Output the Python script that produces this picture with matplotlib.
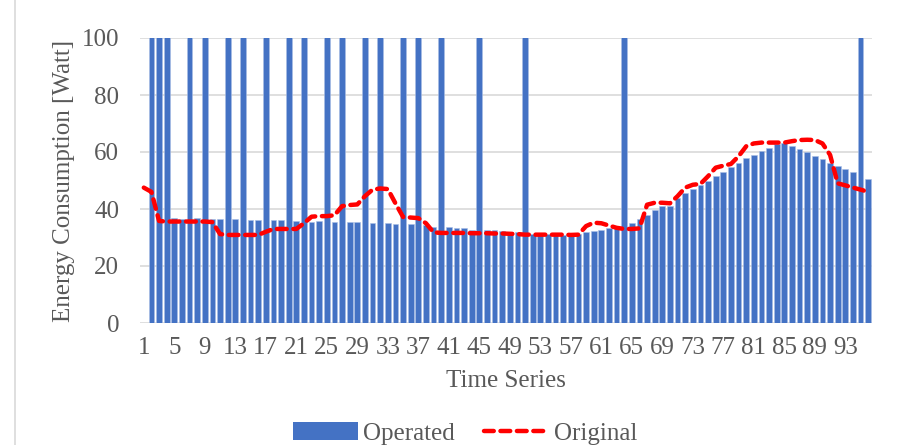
import numpy as np
import matplotlib
matplotlib.use("Agg")
from matplotlib import pyplot as plt
from matplotlib.lines import Line2D
from matplotlib.patches import Patch

plt.rcParams['font.family'] = ['Liberation Serif', 'DejaVu Serif']

T = 120  # spikes that run off the top of the chart
# operated series, categories 2..96
op_cats = list(range(2, 97))
operated = [T, T, T, 36.9, 36.6, T, 36.7, T, 36.4, 36.4,
            T, 36.4, T, 36.0, 36.0, T, 36.0, 36.0, T, 35.7,
            T, 35.6, 35.8, T, 35.4, T, 35.4, 35.4, T, 35.2,
            T, 35.2, 34.9, T, 34.9, T, 34.3, 33.8, T, 33.8,
            33.3, 33.3, 32.7, T, 32.8, 32.5, 32.3, 32.0, 31.8, T,
            31.2, 31.2, 31.2, 31.2, 31.0, 31.0, 31.2, 31.9, 32.3, 32.8,
            33.3, 33.8, T, 35.2, 36.5, 37.9, 39.5, 41.2, 41.0, 43.7,
            45.5, 47.1, 48.3, 49.9, 51.6, 53.1, 54.6, 56.3, 57.8, 58.9,
            60.2, 61.5, 62.7, 63.3, 62.1, 61.2, 59.9, 58.7, 57.5, 56.3,
            55.2, 54.0, 52.9, T, 50.6]

# original series, categories 1..96
orig_cats = list(range(1, 97))
original = [47.5, 46.0, 35.8, 35.6, 35.6, 35.6, 35.6, 35.6, 35.6, 35.4,
            31.2, 30.9, 30.9, 30.9, 30.9, 30.9, 32.0, 33.0, 33.0, 33.0,
            33.0, 35.0, 37.3, 37.5, 37.5, 37.8, 41.0, 41.4, 41.6, 44.5,
            46.8, 47.2, 47.0, 42.0, 37.2, 37.0, 36.8, 35.0, 31.8, 31.6,
            31.6, 31.6, 31.6, 31.5, 31.5, 31.5, 31.4, 31.4, 31.3, 31.2,
            31.0, 31.0, 31.0, 31.0, 31.0, 31.0, 30.9, 31.0, 34.0, 35.2,
            35.0, 34.2, 33.4, 33.0, 33.0, 33.2, 41.5, 42.2, 42.2, 42.0,
            44.5, 47.5, 48.5, 48.8, 51.5, 54.5, 55.2, 55.8, 58.5, 62.0,
            63.0, 63.3, 63.3, 63.3, 63.3, 63.8, 64.2, 64.3, 64.2, 63.0,
            59.0, 49.0, 48.3, 47.5, 46.8, 46.0]

xtick_vals = list(range(1, 97, 4))

fig = plt.figure(figsize=(8.98, 4.45), dpi=100)
ax = fig.add_axes([140/898, 1-323/445, 732/898, 285/445])

bar_col = '#4472c4'
fs = 18
ax.bar(op_cats, operated, width=0.74, color=bar_col, edgecolor='#a9bfe6',
       linewidth=0.4, zorder=2)
ax.plot(orig_cats, original, color='#ff0000', linewidth=3.2,
        dashes=(2.2, 1.5), dash_capstyle='round', solid_capstyle='round', zorder=3)

ax.set_xlim(0.5, 96.5)
ax.set_ylim(0, 100)
ax.set_yticks(range(0, 101, 20))
ax.set_xticks(xtick_vals)
ax.set_xticklabels([str(v) for v in xtick_vals])
ax.grid(axis='y', color='#d9d9d9', linewidth=1.2, zorder=0)
ax.set_axisbelow(True)
for s in ax.spines.values():
    s.set_visible(False)
ax.tick_params(axis='both', length=0, labelsize=fs, colors='#595959')
ax.tick_params(axis='y', pad=15)
ax.tick_params(axis='x', pad=10)
ax.set_ylabel('Energy Consumption [Watt]', fontsize=fs, color='#595959', labelpad=5)
ax.set_xlabel('Time Series', fontsize=fs, color='#595959', labelpad=8)

handles = [Patch(facecolor=bar_col, edgecolor='none'),
           Line2D([0], [0], color='#ff0000', linewidth=3.2, dashes=(2.2, 1.5),
                  dash_capstyle='round')]
leg = fig.legend(handles, ['Operated', 'Original'], loc='lower center',
                 bbox_to_anchor=(0.518, -0.05), ncol=2, frameon=False, fontsize=fs,
                 handlelength=2.6, handleheight=0.7, columnspacing=1.2,
                 handletextpad=0.2)
for t in leg.get_texts():
    t.set_color('#595959')

fig.add_artist(Line2D([15/898, 15/898], [0, 1], color='#d9d9d9', linewidth=1.2))

fig.savefig('out.png', dpi=100)
